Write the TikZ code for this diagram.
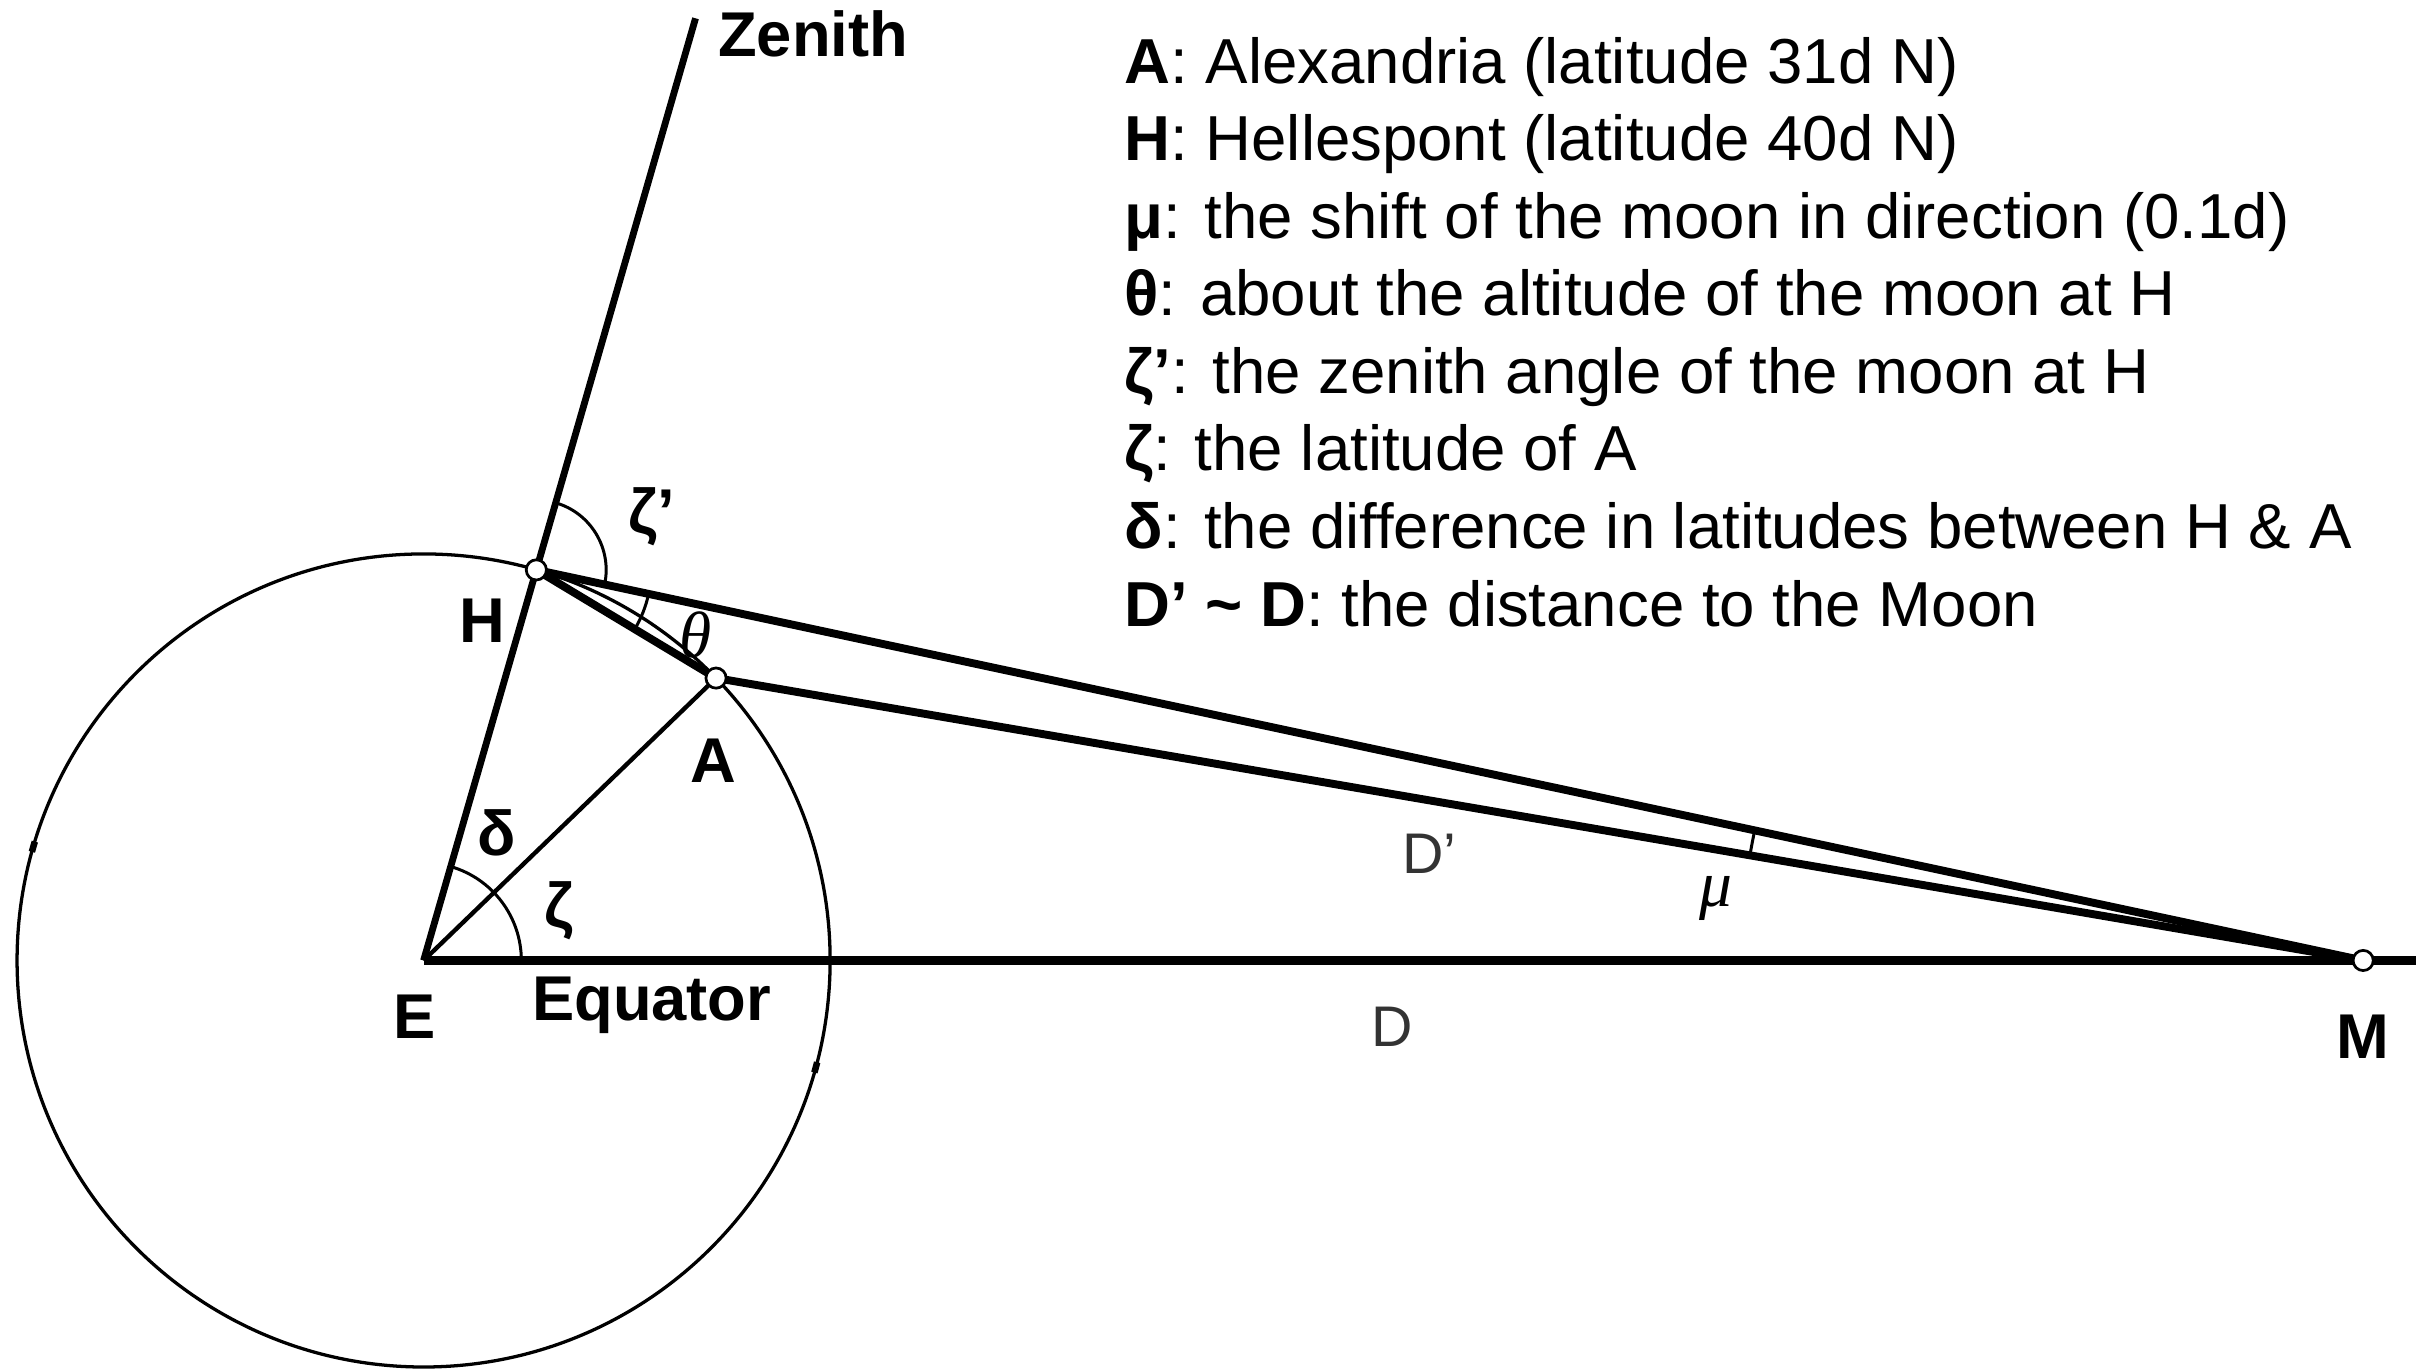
\documentclass[tikz,border=0pt]{standalone}
\usepackage{fontspec}
\setmainfont{Liberation Sans}
\newfontfamily\serifrm{Liberation Serif}
\usetikzlibrary{calc}
\begin{document}
\begin{tikzpicture}[x=0.01cm,y=0.01cm,
  mainline/.style={line width=1.45pt},
  zenline/.style={line width=1.25pt},
  eqline/.style={line width=1.6pt},
  midline/.style={line width=0.8pt},
  thinline/.style={line width=0.6pt},
  arcline/.style={line width=0.55pt},
  pt/.style={circle,draw,line width=0.5pt,fill=white,inner sep=0pt,minimum size=0.13cm},
  lab/.style={font=\fontsize{11.6}{14}\selectfont\bfseries,inner sep=0pt},
  dlab/.style={font=\fontsize{10.5}{12}\selectfont,text=black!80,inner sep=0pt},
  glab/.style={font=\fontsize{12}{13}\selectfont\serifrm\itshape,inner sep=0pt},
  legend/.style={font=\fontsize{11.65}{14}\selectfont,anchor=base west,inner sep=0pt}]
\useasboundingbox (0,0) rectangle (1568,884);
% geometry
\coordinate (E) at (273,265);
\coordinate (H) at ($(E)+(73.9:262)$);
\coordinate (A) at ($(E)+(44:262)$);
\coordinate (M) at (1523,265);
\coordinate (Z) at ($(E)+(73.9:632)$);
\coordinate (Q) at (1557,265);
% earth
\draw[thinline] (E) circle[radius=262];
\draw[line width=1.2pt] ($(E)+(163:262)$) arc[start angle=163,end angle=164.5,radius=262];
\draw[line width=1.2pt] ($(E)+(-16:262)$) arc[start angle=-16,end angle=-14.5,radius=262];
% lines
\draw[zenline] (E) -- (Z);
\draw[eqline] (E) -- (Q);
\draw[midline] (E) -- (A);
\draw[mainline] (H) -- (M);
\draw[mainline] (A) -- (M);
\draw[mainline] (H) -- (A);
% angle arcs
\draw[arcline] ($(E)+(0:63)$) arc[start angle=0,end angle=73.9,radius=63];
\draw[arcline] ($(H)+(-12.07:45)$) arc[start angle=-12.07,end angle=73.9,radius=45];
\draw[arcline] ($(H)+(-31.04:74)$) arc[start angle=-31.04,end angle=-12.07,radius=74];
\draw[arcline] ($(M)+(167.93:401)$) arc[start angle=167.93,end angle=170.27,radius=401];
% points
\node[pt] (h) at (H) {};
\node[pt] (a) at (A) {};
\node[pt] (m) at (M) {};
% labels
\node[lab] (zenith) at (524,862) {Zenith};
\node[lab] (zetap) at (420,551) {ζ’};
\node[lab] (hl) at (311,484) {H};
\node[glab] (thetal) at (448,475) {θ};
\node[lab] (al) at (460,394) {A};
\node[lab] (deltal) at (320,347) {δ};
\node[lab] (zetal) at (360,297) {ζ};
\node[lab] (el) at (267,229) {E};
\node[lab] (equator) at (420,236) {Equator};
\node[dlab] (dp) at (921,334) {D'};
\node[glab] (mul) at (1106,305) {μ};
\node[dlab] (dl) at (897,222) {D};
\node[lab] (ml) at (1523,216) {M};
% legend
\node[legend] (l1) at (724,830.5) {\textbf{A}: Alexandria (latitude 31d N)};
\node[legend] (l2) at (724,780.5) {\textbf{H}: Hellespont (latitude 40d N)};
\node[legend] (l3) at (724,730.5) {\textbf{μ}: the shift of the moon in direction (0.1d)};
\node[legend] (l4) at (724,680.5) {\textbf{θ}: about the altitude of the moon at H};
\node[legend] (l5) at (724,630.5) {\textbf{ζ’}: the zenith angle of the moon at H};
\node[legend] (l6) at (724,580.5) {\textbf{ζ}: the latitude of A};
\node[legend] (l7) at (724,530.5) {\textbf{δ}: the difference in latitudes between H \& A};
\node[legend] (l8) at (724,480.5) {\textbf{D’ \textasciitilde{} D}: the distance to the Moon};
\end{tikzpicture}
\end{document}
